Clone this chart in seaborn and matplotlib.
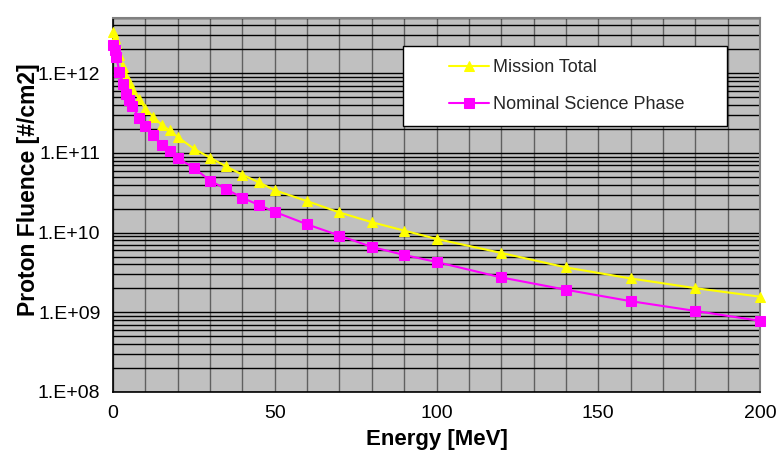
import numpy as np
import pandas as pd
import matplotlib
matplotlib.use("Agg")
import matplotlib.pyplot as plt
from matplotlib.ticker import FixedLocator, FuncFormatter, MultipleLocator
from matplotlib.patches import Rectangle
import seaborn as sns

# Proton energy grid [MeV]
energy = [0.1, 0.5, 1, 2, 3, 4, 5, 6, 8, 10, 12.5, 15, 17.5, 20, 25, 30, 35, 40,
          45, 50, 60, 70, 80, 90, 100, 120, 140, 160, 180, 200]

# Integral proton fluence [#/cm2]
mission_total = [3.3e12, 2.8e12, 2.4e12, 1.7e12, 1.2e12, 9.0e11, 7.8e11, 6.4e11,
                 4.8e11, 3.6e11, 2.82e11, 2.26e11, 1.92e11, 1.58e11, 1.13e11,
                 8.7e10, 6.76e10, 5.32e10, 4.29e10, 3.40e10, 2.48e10, 1.79e10,
                 1.35e10, 1.06e10, 8.33e9, 5.56e9, 3.66e9, 2.66e9, 2.01e9, 1.57e9]
nominal_science = [2.25e12, 1.95e12, 1.6e12, 1.04e12, 7.3e11, 5.45e11, 4.6e11,
                   3.9e11, 2.77e11, 2.17e11, 1.66e11, 1.24e11, 1.07e11, 8.6e10,
                   6.5e10, 4.47e10, 3.51e10, 2.73e10, 2.23e10, 1.82e10, 1.27e10,
                   9.17e9, 6.61e9, 5.24e9, 4.28e9, 2.74e9, 1.92e9, 1.38e9,
                   1.04e9, 7.82e8]

series_names = ["Mission Total", "Nominal Science Phase"]
y_ticks = [1e8, 1e9, 1e10, 1e11, 1e12]
x_ticks = [0, 50, 100, 150, 200]

df = pd.DataFrame({
    "Energy": energy * 2,
    "Fluence": mission_total + nominal_science,
    "Series": [series_names[0]] * len(energy) + [series_names[1]] * len(energy),
})

sns.set_theme(style="white")
plt.rcParams["font.family"] = ["Liberation Sans", "DejaVu Sans"]

fig = plt.figure(figsize=(7.82, 4.58), dpi=100)
ax = fig.add_axes([113 / 782, 1 - 392 / 458, 647 / 782, 374.5 / 458])
ax.set_facecolor("#C0C0C0")

styles = {
    series_names[0]: dict(color="#FFFF00", marker="^", markersize=7.5),
    series_names[1]: dict(color="#FF00FF", marker="s", markersize=6.5),
}
for name in series_names:
    st = styles[name]
    sns.lineplot(data=df[df["Series"] == name], x="Energy", y="Fluence", ax=ax,
                 color=st["color"], marker=st["marker"], markersize=st["markersize"],
                 markeredgecolor=st["color"], linewidth=1.5, label=name,
                 zorder=4, clip_on=False)

ax.set_yscale("log")
ax.set_xlim(0, 200)
ax.set_ylim(1e8, 5e12)

# Grid: decade and sub-decade lines, 10 MeV verticals
ax.set_axisbelow(True)
ax.yaxis.set_major_locator(FixedLocator(y_ticks))
minor_y = [m * 10.0 ** e for e in range(8, 13) for m in range(2, 10) if m * 10.0 ** e <= 5e12]
ax.yaxis.set_minor_locator(FixedLocator(minor_y))
ax.yaxis.set_major_formatter(FuncFormatter(lambda v, p: f"1.E+{int(round(np.log10(v))):02d}"))
ax.xaxis.set_major_locator(FixedLocator(x_ticks))
ax.xaxis.set_minor_locator(MultipleLocator(10))
ax.grid(True, which="both", axis="y", color="black", linewidth=1.0)
ax.grid(True, which="both", axis="x", color="#606060", linewidth=1.0)

ax.tick_params(axis="both", which="major", direction="out", length=5, width=1,
               color="black", labelsize=14, labelcolor="black", pad=4)
ax.tick_params(axis="both", which="minor", length=0)

for side in ("left", "bottom"):
    ax.spines[side].set_color("black")
    ax.spines[side].set_linewidth(1.2)
for side in ("top", "right"):
    ax.spines[side].set_color("#808080")
    ax.spines[side].set_linewidth(1.5)

ax.set_xlabel("Energy [MeV]", fontsize=16, fontweight="bold", color="black")
ax.set_ylabel("Proton Fluence [#/cm2]", fontsize=16.5, fontweight="bold", color="black")
ax.xaxis.set_label_coords(0.5, -0.1)
ax.yaxis.set_label_coords(-0.113, 0.54)

# Legend: white box with black border, entries set inside it
box = Rectangle(((403 - 113) / 647, (392 - 126) / 374.5), 324 / 647, 80 / 374.5,
                transform=ax.transAxes, facecolor="white", edgecolor="black",
                linewidth=1.0, zorder=5)
ax.add_patch(box)
handles, labels = ax.get_legend_handles_labels()
leg = ax.legend(handles, labels, loc="upper left",
                bbox_to_anchor=((449 - 113) / 647, (392 - 59) / 374.5),
                frameon=False, fontsize=13, handlelength=2.2, handletextpad=0.25,
                labelspacing=1.1, borderpad=0, borderaxespad=0)
leg.set_zorder(6)

fig.savefig("out.png", dpi=100, facecolor="white")
